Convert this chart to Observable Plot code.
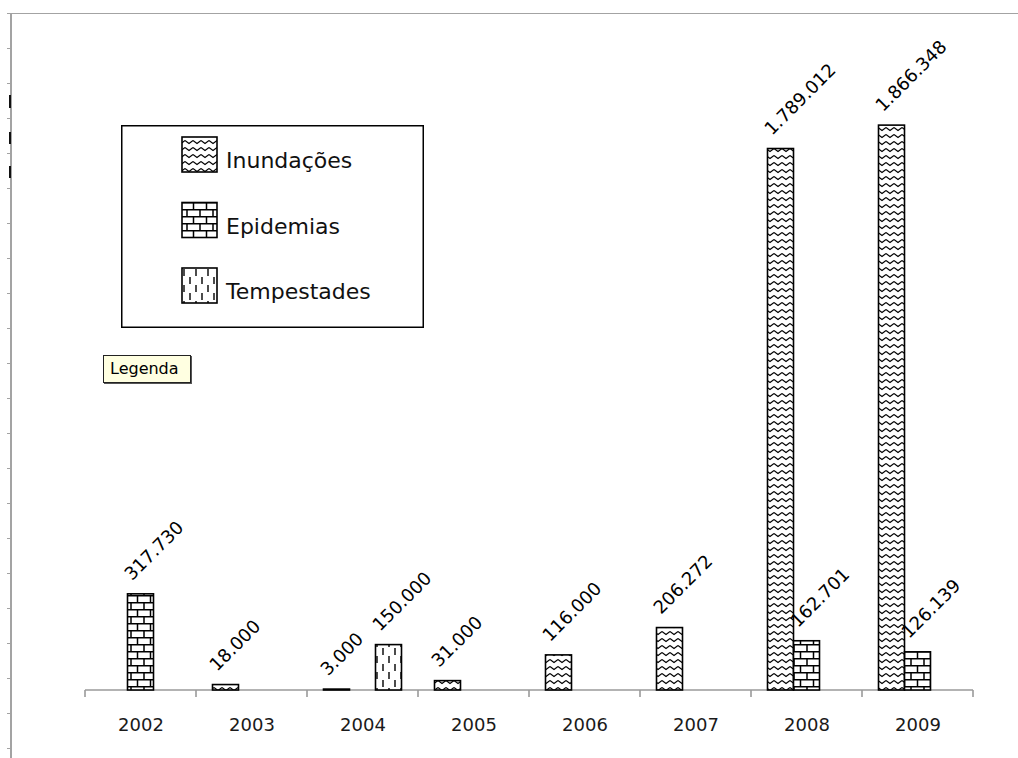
<!DOCTYPE html>
<html><head><meta charset="utf-8">
<script src="https://cdn.jsdelivr.net/npm/d3@7"></script>
<script src="https://cdn.jsdelivr.net/npm/@observablehq/plot@0.6"></script>
<style>
body{margin:0;background:#fff;}
#wrap{position:relative;width:1018px;height:758px;overflow:hidden;font-family:"DejaVu Sans",sans-serif;background:#fff;}
#chart{position:absolute;left:0;top:0;}
.frame{position:absolute;left:10px;top:13px;right:0;bottom:0;border-left:2px solid #a3a3a3;border-top:1.5px solid #a3a3a3;pointer-events:none;}
.lticks{position:absolute;left:7px;top:13px;width:3px;height:745px;background:repeating-linear-gradient(to bottom,#a3a3a3 0 1px,transparent 1px 35px);}
.blk{position:absolute;left:9px;width:2px;background:#111;}
#legend{position:absolute;left:121px;top:125px;}
.tip{position:absolute;left:103px;top:355px;width:80px;height:26px;background:#ffffe1;border:1px solid #222;box-shadow:1px 1px 0 #555;font-family:"DejaVu Sans",sans-serif;font-size:16px;line-height:26px;padding-left:6px;box-sizing:content-box;color:#000;}
</style></head><body>
<div id="wrap">
<svg width="0" height="0" style="position:absolute">
  <defs>
    <pattern id="wave" patternUnits="userSpaceOnUse" width="8" height="7">
      <rect width="8" height="7" fill="#fff"/>
      <path d="M0,1.5 L4,4.5 L8,1.5" fill="none" stroke="#000" stroke-width="1.1"/>
    </pattern>
    <pattern id="brick" patternUnits="userSpaceOnUse" width="13" height="14">
      <rect width="13" height="14" fill="#fff"/>
      <path d="M0,0.75 H13 M0,7.75 H13 M1,0 V7.5 M7.5,7.5 V14" fill="none" stroke="#000" stroke-width="1.5"/>
    </pattern>
    <pattern id="dash" patternUnits="userSpaceOnUse" width="12" height="16">
      <rect width="12" height="16" fill="#fff"/>
      <path d="M3,0 V7 M9,8 V15" fill="none" stroke="#000" stroke-width="1.4"/>
    </pattern>
  </defs>
</svg>
<div id="chart"></div>
<div class="frame"></div>
<div class="lticks"></div>
<div class="blk" style="top:95px;height:13px"></div>
<div class="blk" style="top:132px;height:12px"></div>
<div class="blk" style="top:166px;height:12px"></div>
<div id="legend"></div>
<div class="tip">Legenda</div>
</div>
<script>
// ---- data ----
const years = ["2002", "2003", "2004", "2005", "2006", "2007", "2008", "2009"];
const seriesNames = ["Inundações", "Epidemias", "Tempestades"];
const inundacoes = [0, 18000, 3000, 31000, 116000, 206272, 1789012, 1866348];
const epidemias = [317730, 0, 0, 0, 0, 0, 162701, 126139];
const tempestades = [0, 0, 150000, 0, 0, 0, 0, 0];
const yMax = 2250000;

// ---- styles ----
const patternFills = ["url(#wave)", "url(#brick)", "url(#dash)"];
const barW = 26;

const seriesValues = [inundacoes, epidemias, tempestades];
const rows = [];
seriesNames.forEach((s, i) => years.forEach((y, j) => {
  rows.push({series: s, si: i, year: y, value: seriesValues[i][j]});
}));

const locale = d3.formatLocale({decimal: ",", thousands: ".", grouping: [3], currency: ["", ""]});
const fmt = locale.format(",d");

const W = 1018, H = 758, mL = 85, mR = 45, mT = 9, mB = 68;
const bandW = (W - mL - mR) / years.length;
const inset = (bandW - barW) / 2;

function categoryAxis(index, scales, values, dimensions) {
  const d = dimensions || {width: W, height: H, marginLeft: mL, marginRight: mR, marginBottom: mB};
  const y0 = d.height - d.marginBottom;
  const bw = (d.width - d.marginLeft - d.marginRight) / years.length;
  const g = d3.create("svg:g").attr("stroke", "#9a9a9a").attr("stroke-width", 1.6).attr("fill", "none");
  g.append("line").attr("x1", d.marginLeft).attr("x2", d.width - d.marginRight).attr("y1", y0).attr("y2", y0);
  d3.range(years.length + 1).forEach(i => {
    const x = d.marginLeft + i * bw;
    g.append("line").attr("x1", x).attr("x2", x).attr("y1", y0).attr("y2", y0 + 7);
  });
  return g.node();
}

const marks = [categoryAxis];
seriesNames.forEach((s, i) => {
  const data = rows.filter(r => r.si === i && r.value > 0);
  const off = (i - 1) * barW;
  marks.push(Plot.barY(data, {
    x: "year", y: "value", fill: patternFills[i], stroke: "#000", strokeWidth: 1.6,
    insetLeft: inset, insetRight: inset, dx: off
  }));
  marks.push(Plot.text(data, {
    x: "year", y: "value", text: r => fmt(r.value), rotate: -45, textAnchor: "start", lineAnchor: "bottom",
    dx: off - 9, dy: -13, fontSize: 18, fill: "#000", fontFamily: "DejaVu Sans"
  }));
});
marks.push(Plot.axisX({tickSize: 0, tickPadding: 28, fontSize: 18, fill: "#1a1a1a", fontFamily: "DejaVu Sans", label: null}));

const chart = Plot.plot({
  width: W, height: H,
  marginLeft: mL, marginRight: mR, marginTop: mT, marginBottom: mB,
  style: {background: "transparent", overflow: "visible"},
  x: {type: "band", domain: years, padding: 0, axis: null},
  y: {domain: [0, yMax], axis: null},
  marks
});
document.getElementById("chart").appendChild(chart);

// ---- legend ----
const lg = d3.select("#legend").append("svg").attr("width", 304).attr("height", 204);
lg.append("rect").attr("x", 0.75).attr("y", 0.75).attr("width", 301.5).attr("height", 201.5)
  .attr("fill", "#fff").attr("stroke", "#000").attr("stroke-width", 1.5);
seriesNames.forEach((s, i) => {
  const top = 12 + i * 65.5;
  lg.append("rect").attr("x", 61).attr("y", top).attr("width", 35).attr("height", 35)
    .attr("fill", patternFills[i]).attr("stroke", "#000").attr("stroke-width", 1.6);
  lg.append("text").attr("x", 105).attr("y", top + 31).attr("font-size", 22)
    .attr("font-family", "DejaVu Sans").attr("fill", "#111").text(s);
});
</script>
</body></html>
